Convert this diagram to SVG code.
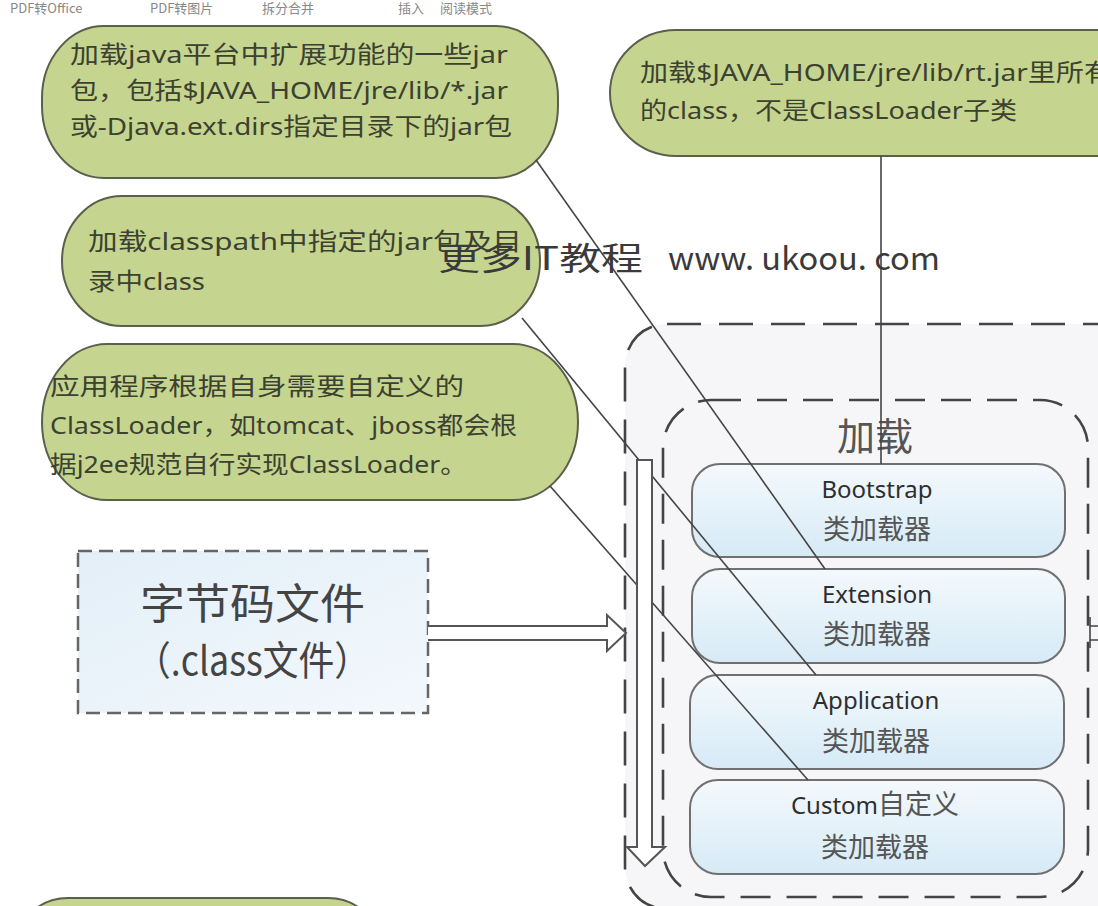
<svg xmlns="http://www.w3.org/2000/svg" width="1098" height="906" viewBox="0 0 1098 906">
<defs>
<linearGradient id="gLoader" x1="0" y1="0" x2="0" y2="1">
<stop offset="0" stop-color="#f4f9fc"/>
<stop offset="1" stop-color="#d6eaf6"/>
</linearGradient>
<linearGradient id="gByte" x1="0" y1="0" x2="1" y2="1">
<stop offset="0" stop-color="#e3eff8"/>
<stop offset="1" stop-color="#f3f8fc"/>
</linearGradient>
<style>
.bubble{fill:#c5d590;stroke:#5a604c;stroke-width:2}
.btxt{font-family:"Noto Sans","Noto Sans CJK SC",sans-serif;font-size:24px;fill:#3c4130}
.cont{stroke:#444;stroke-width:2.6;fill:#f6f6f9}
.loader{fill:url(#gLoader);stroke:#707070;stroke-width:2}
.lname{font-family:"Noto Sans","Noto Sans CJK SC",sans-serif;font-size:24px;fill:#2e2e2e;text-anchor:middle}
.lcn{font-family:"Noto Sans CJK SC",sans-serif;font-size:27px;fill:#555;text-anchor:middle}
.conn{stroke:#444;stroke-width:1.6;fill:none}
.hollow{fill:#fff;stroke:#555;stroke-width:2}
.tb{font-family:"Noto Sans CJK SC",sans-serif;font-size:13px;fill:#888}
.wm{font-family:"Noto Sans CJK SC",sans-serif;font-size:32px;fill:#3a3a3a}
</style>
</defs>
<rect width="1098" height="906" fill="#ffffff"/>

<g id="toolbar">
<text class="tb" x="10" y="13">PDF转Office</text>
<text class="tb" x="150" y="13">PDF转图片</text>
<text class="tb" x="262" y="13">拆分合并</text>
<text class="tb" x="398" y="13">插入</text>
<text class="tb" x="440" y="13">阅读模式</text>
</g>

<g id="outer-container">
<rect class="cont" x="625" y="324" width="620" height="585" rx="42" stroke-dasharray="34 18"/>
</g>
<g id="inner-container">
<rect class="cont" x="663" y="400" width="425" height="497" rx="48" fill="#f7f7fa" stroke-dasharray="30 16"/>
<text x="875" y="450" font-family="Noto Sans CJK SC,sans-serif" font-size="38" fill="#555" text-anchor="middle">加载</text>
</g>

<g id="bootstrap">
<rect class="loader" x="692" y="464" width="373" height="93" rx="28"/>
<text class="lname" x="877" y="498">Bootstrap</text>
<text class="lcn" x="877" y="539">类加载器</text>
</g>
<g id="extension">
<rect class="loader" x="692" y="569" width="373" height="94" rx="28"/>
<text class="lname" x="877" y="603">Extension</text>
<text class="lcn" x="877" y="644">类加载器</text>
</g>
<g id="application">
<rect class="loader" x="690" y="675" width="374" height="94" rx="28"/>
<text class="lname" x="876" y="709">Application</text>
<text class="lcn" x="876" y="751">类加载器</text>
</g>
<g id="custom">
<rect class="loader" x="690" y="780" width="374" height="94" rx="28"/>
<text class="lname" x="875" y="814">Custom<tspan font-family="Noto Sans CJK SC,sans-serif" font-size="27" fill="#555">自定义</tspan></text>
<text class="lcn" x="875" y="857">类加载器</text>
</g>

<g id="bytecode">
<rect x="78" y="551" width="350" height="162" fill="url(#gByte)" stroke="#666" stroke-width="2.5" stroke-dasharray="14 7"/>
<text x="140" y="619" font-family="Noto Sans CJK SC,sans-serif" font-size="42" fill="#444" textLength="225" lengthAdjust="spacingAndGlyphs">字节码文件</text>
<text x="135" y="675" font-family="Noto Sans CJK SC,sans-serif" font-size="40" fill="#444" textLength="235" lengthAdjust="spacingAndGlyphs">（.class文件）</text>
</g>

<g id="bubble-ext">
<rect class="bubble" x="42" y="26" width="516" height="152" rx="62" ry="72"/>
<text class="btxt" x="70" y="63" textLength="438" lengthAdjust="spacingAndGlyphs">加载java平台中扩展功能的一些jar</text>
<text class="btxt" x="70" y="99" textLength="438" lengthAdjust="spacingAndGlyphs">包，包括$JAVA_HOME/jre/lib/*.jar</text>
<text class="btxt" x="70" y="135" textLength="442" lengthAdjust="spacingAndGlyphs">或-Djava.ext.dirs指定目录下的jar包</text>
</g>
<g id="bubble-boot">
<rect class="bubble" x="610" y="30" width="560" height="126" rx="66" ry="63"/>
<text class="btxt" x="640" y="81" textLength="472" lengthAdjust="spacingAndGlyphs">加载$JAVA_HOME/jre/lib/rt.jar里所有</text>
<text class="btxt" x="640" y="119" textLength="377" lengthAdjust="spacingAndGlyphs">的class，不是ClassLoader子类</text>
</g>
<g id="bubble-app">
<rect class="bubble" x="62" y="196" width="478" height="130" rx="60" ry="65"/>
<text class="btxt" x="88" y="250" textLength="434" lengthAdjust="spacingAndGlyphs">加载classpath中指定的jar包及目</text>
<text class="btxt" x="88" y="290" textLength="117" lengthAdjust="spacingAndGlyphs">录中class</text>
</g>
<g id="bubble-custom">
<rect class="bubble" x="42" y="344" width="536" height="156" rx="65" ry="78"/>
<text class="btxt" x="50" y="395" textLength="414" lengthAdjust="spacingAndGlyphs">应用程序根据自身需要自定义的</text>
<text class="btxt" x="50" y="434" textLength="467" lengthAdjust="spacingAndGlyphs">ClassLoader，如tomcat、jboss都会根</text>
<text class="btxt" x="50" y="473" textLength="417" lengthAdjust="spacingAndGlyphs">据j2ee规范自行实现ClassLoader。</text>
</g>
<g id="bubble-bottom">
<rect class="bubble" x="18" y="898" width="360" height="90" rx="50"/>
</g>

<g id="connectors">
<line class="conn" x1="536" y1="160" x2="825" y2="569"/>
<line class="conn" x1="881" y1="156" x2="881" y2="464"/>
<line class="conn" x1="522" y1="318" x2="816" y2="675"/>
<line class="conn" x1="550" y1="486" x2="808" y2="780"/>
<path class="hollow" d="M637,460 L652,460 L652,847 L665,847 L645,866 L627,847 L637,847 Z"/>
<path class="hollow" d="M428,626 L607,626 L607,615 L626,633 L607,651 L607,640 L428,640"/>
<path class="conn" d="M1090,617 L1090,648 M1090,626 L1098,626 M1090,640 L1098,640" stroke-width="2"/>
</g>

<g id="watermark">
<text class="wm" x="438" y="270" textLength="205" lengthAdjust="spacingAndGlyphs">更多IT教程</text>
<text class="wm" x="668" y="270" textLength="272" lengthAdjust="spacingAndGlyphs">www. ukoou. com</text>
</g>
</svg>
